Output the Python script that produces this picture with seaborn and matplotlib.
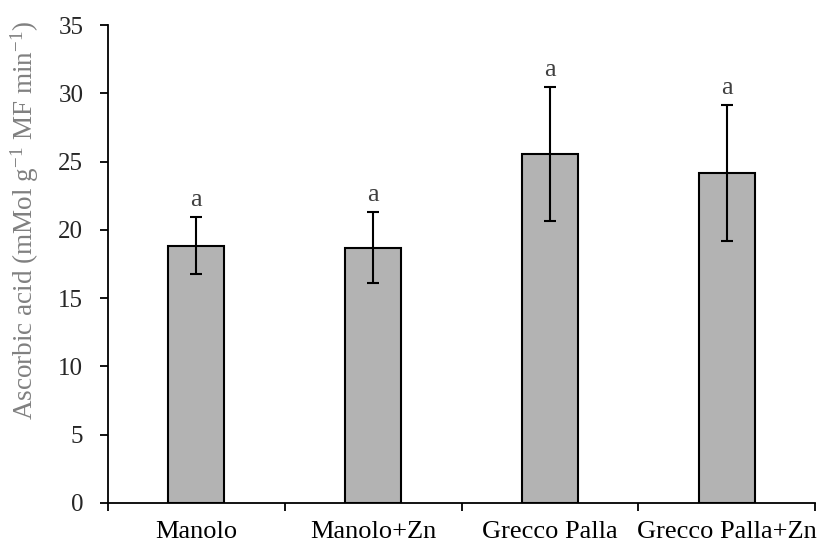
import matplotlib
matplotlib.use("Agg")
import matplotlib.pyplot as plt
import seaborn as sns
import pandas as pd
import numpy as np

categories = ["Manolo", "Manolo+Zn", "Grecco Palla", "Grecco Palla+Zn"]
values = [18.85, 18.7, 25.55, 24.15]
errors = [2.1, 2.6, 4.9, 5.0]
letters = ["a", "a", "a", "a"]
yticks = [0, 5, 10, 15, 20, 25, 30, 35]

sns.set_theme(style="white")
plt.rcParams["font.family"] = ["Liberation Serif", "DejaVu Serif"]
plt.rcParams["mathtext.fontset"] = "custom"
plt.rcParams["mathtext.rm"] = "Liberation Serif"
plt.rcParams["mathtext.it"] = "Liberation Serif:italic"
plt.rcParams["mathtext.bf"] = "Liberation Serif:bold"

df = pd.DataFrame({"cat": categories, "val": values})

fig = plt.figure(figsize=(8.19, 5.45), dpi=100)
ax = fig.add_axes([0.1319, 0.0771, 0.8632, 0.877])

sns.barplot(data=df, x="cat", y="val", color="#b3b3b3", saturation=1,
            edgecolor="black", linewidth=1.5, width=0.316, errorbar=None, ax=ax)
x = np.arange(len(categories))
ax.errorbar(x, values, yerr=errors, fmt="none", ecolor="black",
            elinewidth=1.5, capsize=4, capthick=1.5, zorder=5)

for xi, v, e, t in zip(x, values, errors, letters):
    ax.text(xi, v + e + 0.45, t, ha="center", va="bottom",
            fontsize=19, color="#404040")

ax.set_xlim(-0.5, len(categories) - 0.5)
ax.set_ylim(0, 35)
ax.set_yticks(yticks)
ax.set_yticklabels([str(t) for t in yticks], fontsize=18)
ax.set_xticks(x)
ax.set_xticklabels(categories, fontsize=19)
ax.set_xticks(np.arange(-0.5, len(categories), 1.0), minor=True)
ax.tick_params(axis="x", which="major", length=0, pad=13, colors="black")
ax.tick_params(axis="x", which="minor", length=5.5, width=1.3, direction="out",
               bottom=True, color="black")
ax.tick_params(axis="y", which="major", length=5.8, width=1.3, direction="out",
               left=True, color="black", pad=12)

for s in ["top", "right"]:
    ax.spines[s].set_visible(False)
for s in ["left", "bottom"]:
    ax.spines[s].set_color("black")
    ax.spines[s].set_linewidth(1.3)

ax.set_xlabel("")
ax.set_ylabel(r"Ascorbic acid (mMol g$^{\mathrm{-1}}$ MF min$^{\mathrm{-1}}$)",
              fontsize=19.5, color="#808080")
ax.yaxis.set_label_coords(-0.095, 0.592)

fig.savefig("out.png", dpi=100, facecolor="white")
